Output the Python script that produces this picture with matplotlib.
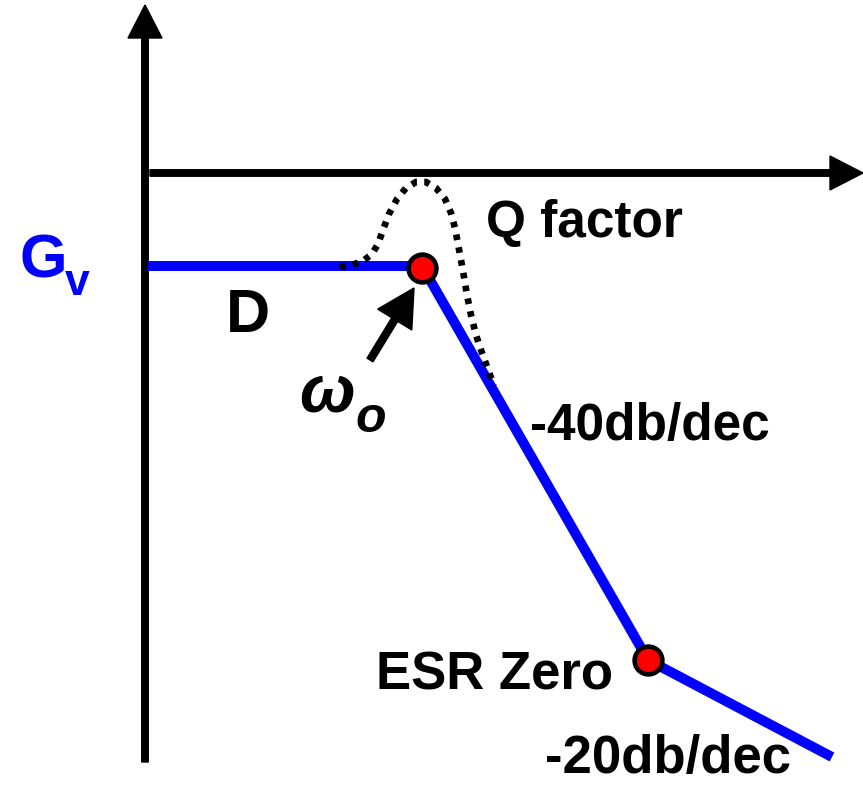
import matplotlib
matplotlib.use("Agg")
import matplotlib.pyplot as plt
from matplotlib.patches import FancyArrow

# Bode asymptote corners (pixel-like units of the sketch)
bode_x = [148, 422, 648, 832]
bode_y = [266, 266, 660, 757]
# corner points marked with red dots: omega_o and ESR zero
pole_x = [422, 648]
pole_y = [268, 660]
# resonant peak (Q factor), dotted
peak_x = [340, 352, 363, 372, 378, 383, 389, 397, 406, 416, 426, 436, 445, 451, 455, 458, 461, 464, 467, 471, 476, 481, 486, 490, 494]
peak_y = [267, 265, 261, 254, 244, 230, 214, 199, 188, 182, 182, 188, 199, 213, 228, 244, 260, 277, 295, 315, 335, 350, 364, 375, 386]

FONT = ["Liberation Sans", "DejaVu Sans"]

fig = plt.figure(figsize=(8.63, 7.85), dpi=100)
ax = fig.add_axes([0, 0, 1, 1])
ax.set_xlim(0, 863)
ax.set_ylim(785, 0)
ax.axis("off")

# axes of the sketch
ax.add_patch(FancyArrow(145, 762, 0, -757, width=6.5, head_width=34, head_length=33,
                        length_includes_head=True, color="black", zorder=2))
ax.add_patch(FancyArrow(150, 173, 713, 0, width=6.5, head_width=34, head_length=33,
                        length_includes_head=True, color="black", zorder=2))

ax.plot(bode_x, bode_y, color="#0000ff", lw=7.2, solid_capstyle="butt", zorder=4)
ax.plot(peak_x, peak_y, color="black", lw=4.8, dashes=(0.85, 1.1), dash_capstyle="butt", zorder=4.5)
ax.plot(pole_x, pole_y, "o", ms=20, mfc="#ff0000", mec="black", mew=3.3, zorder=5)

# arrow pointing at omega_o
ax.add_patch(FancyArrow(370, 360, 44, -72, width=7, head_width=40, head_length=37,
                        length_includes_head=True, color="black", zorder=6))

ax.text(19, 277, "G", color="#0000ff", fontsize=44, fontweight="bold", family=FONT)
ax.text(65, 295, "v", color="#0000ff", fontsize=32, fontweight="bold", family=FONT)
ax.text(226, 332, "D", fontsize=44, fontweight="bold", family=FONT)
ax.text(486, 237, "Q factor", fontsize=37, fontweight="bold", family=FONT)
ax.text(299, 411, "ω", fontsize=48, fontweight="bold", family=FONT, style="italic")
ax.text(355, 432, "o", fontsize=36, fontweight="bold", family=FONT, style="italic")
ax.text(530, 440, "-40db/dec", fontsize=37, fontweight="bold", family=FONT)
ax.text(376, 689, "ESR Zero", fontsize=38, fontweight="bold", family=FONT)
ax.text(545, 773, "-20db/dec", fontsize=38, fontweight="bold", family=FONT)

fig.savefig("out.png", dpi=100)
